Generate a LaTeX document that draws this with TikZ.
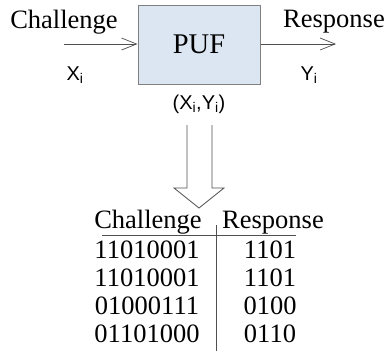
\documentclass[tikz,border=0pt]{standalone}
\usepackage{fontspec}
\setmainfont{Liberation Serif}
\newfontfamily\lblfont{Liberation Sans}
\usetikzlibrary{arrows.meta}
\definecolor{pufblue}{HTML}{DCE6F2}
\definecolor{pufedge}{HTML}{808080}
\definecolor{wire}{HTML}{505050}
\tikzset{
  ser/.style={font=\fontsize{26.5}{26.5}\selectfont, inner sep=0pt, anchor=base},
  lbl/.style={font=\lblfont\fontsize{20}{20}\selectfont, inner sep=0pt},
  wirearrow/.style={draw=wire, line width=0.8pt, -{Straight Barb[length=15pt,width=12pt,line width=0.7pt]}},
  rule/.style={draw=wire, line width=0.8pt}
}
\begin{document}
\begin{tikzpicture}[x=1pt,y=-1pt]
\useasboundingbox (0,0) rectangle (387,351);
% PUF block
\node[draw=pufedge, line width=1pt, fill=pufblue, minimum width=122pt, minimum height=79pt,
      font=\fontsize{28.5}{28.5}\selectfont, inner sep=0pt] (puf) at (199,44.5) {PUF};
% input and output wires
\coordinate (in) at (64,44);
\coordinate (out) at (336,44);
\draw[wirearrow] (in) -- (puf.west |- in);
\draw[wirearrow] (puf.east |- out) -- (out);
\node[ser] (chal) at (64,28) {Challenge};
\node[ser] (resp) at (334,27) {Response};
\node[lbl] (xi) at (75,75) {X\textsubscript{i}};
\node[lbl] (yi) at (309,75) {Y\textsubscript{i}};
\node[lbl] (pair) at (199,104) {(X\textsubscript{i},Y\textsubscript{i})};
% hollow arrow down to the table
\draw[rule, line join=miter] (187,125) -- (187,188) -- (174,188) -- (199,208) -- (224,188) -- (212,188) -- (212,125);
% table of challenge/response pairs
\node[ser] (hc) at (148,228) {Challenge};
\node[ser] (hr) at (273,228) {Response};
\draw[rule] (102,235) -- (296,235);
\draw[rule] (216,225) -- (216,351);
\node[ser] (c1) at (147,258) {11010001};
\node[ser] (r1) at (270,258) {1101};
\node[ser] (c2) at (147,286) {11010001};
\node[ser] (r2) at (270,286) {1101};
\node[ser] (c3) at (147,314) {01000111};
\node[ser] (r3) at (270,314) {0100};
\node[ser] (c4) at (147,342) {01101000};
\node[ser] (r4) at (270,342) {0110};
\end{tikzpicture}
\end{document}
